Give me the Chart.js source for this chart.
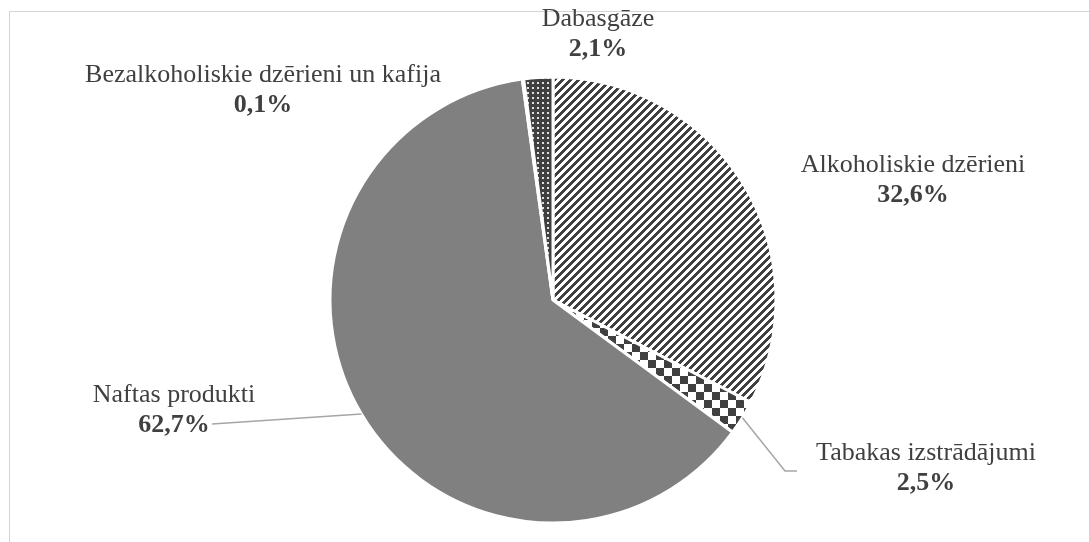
<!DOCTYPE html>
<html>
<head>
<meta charset="utf-8">
<script src="https://cdn.jsdelivr.net/npm/chart.js@4.4.1/dist/chart.umd.min.js"></script>
<style>
    html, body { margin: 0; padding: 0; background: #fff; }
    #wrap { position: relative; width: 1089px; height: 542px; }
    #frame {
        position: absolute; left: 9px; top: 11px; right: 0; bottom: 0;
        border-top: 1px solid #d4d4d4; border-left: 1px solid #d4d4d4;
    }
    #pieCanvas { position: absolute; left: 0; top: 0; }
</style>
</head>
<body>
<div id="wrap">
    <div id="frame"></div>
    <canvas id="pieCanvas" width="1089" height="542"></canvas>
</div>
<script>
const categories = [
    "Alkoholiskie dzērieni",
    "Tabakas izstrādājumi",
    "Naftas produkti",
    "Bezalkoholiskie dzērieni un kafija",
    "Dabasgāze",
];
const shares = [32.6, 2.5, 62.7, 0.1, 2.1];
const shareLabels = shares.map((v) => v.toFixed(1).replace(".", ",") + "%");

const dark = "#404040";

function makePattern(size, paint) {
    const c = document.createElement("canvas");
    c.width = size;
    c.height = size;
    const g = c.getContext("2d");
    paint(g, size);
    return document.getElementById("pieCanvas").getContext("2d").createPattern(c, "repeat");
}

// upward diagonal stripes
const stripes = makePattern(8, (g, n) => {
    g.fillStyle = "#fff";
    g.fillRect(0, 0, n, n);
    g.fillStyle = dark;
    for (let x = 0; x < n; x++) {
        for (let y = 0; y < n; y++) {
            if ((x + y) % 8 < 4) g.fillRect(x, y, 1, 1);
        }
    }
});
const checker = makePattern(16, (g, n) => {
    g.fillStyle = "#fff";
    g.fillRect(0, 0, n, n);
    g.fillStyle = dark;
    g.fillRect(0, 0, 8, 8);
    g.fillRect(8, 8, 8, 8);
});
const dots = makePattern(5, (g, n) => {
    g.fillStyle = dark;
    g.fillRect(0, 0, n, n);
    g.fillStyle = "rgba(255,255,255,0.85)";
    g.fillRect(2, 2, 2, 2);
});

const sliceFills = [stripes, checker, "#808080", "#a6a6a6", dots];

// where each label sits: centre x, baseline of the name line
const labelSpots = [
    { x: 913, y: 172 },
    { x: 926, y: 460, leader: [[785, 471], [797, 471]] },
    { x: 174, y: 402, leader: [[212, 424]] },
    { x: 263, y: 82 },
    { x: 598, y: 26 },
];

const pieLabels = {
    id: "pieLabels",
    afterDatasetsDraw(chart) {
        const ctx = chart.ctx;
        const arcs = chart.getDatasetMeta(0).data;
        ctx.save();
        arcs.forEach((arc, i) => {
            const spot = labelSpots[i];
            if (spot.leader) {
                const mid = (arc.startAngle + arc.endAngle) / 2;
                ctx.beginPath();
                ctx.moveTo(arc.x + arc.outerRadius * Math.cos(mid), arc.y + arc.outerRadius * Math.sin(mid));
                spot.leader.forEach((p) => ctx.lineTo(p[0], p[1]));
                ctx.strokeStyle = "#a6a6a6";
                ctx.lineWidth = 1.5;
                ctx.stroke();
            }
            ctx.fillStyle = dark;
            ctx.textAlign = "center";
            ctx.textBaseline = "alphabetic";
            ctx.font = "26px 'Liberation Serif', 'Times New Roman', serif";
            ctx.fillText(categories[i], spot.x, spot.y);
            ctx.font = "bold 26px 'Liberation Serif', 'Times New Roman', serif";
            ctx.fillText(shareLabels[i], spot.x, spot.y + 30);
        });
        ctx.restore();
    },
};

const pieChart = new Chart(document.getElementById("pieCanvas"), {
    type: "pie",
    data: {
        labels: categories,
        datasets: [
            {
                data: shares,
                backgroundColor: sliceFills,
                borderColor: "#fff",
                borderWidth: 3,
            },
        ],
    },
    options: {
        responsive: false,
        animation: false,
        events: [],
        layout: { padding: { top: 75.5, bottom: 17.5, left: 100, right: 83 } },
        plugins: {
            legend: { display: false },
            tooltip: { enabled: false },
        },
    },
    plugins: [pieLabels],
});
</script>
</body>
</html>
